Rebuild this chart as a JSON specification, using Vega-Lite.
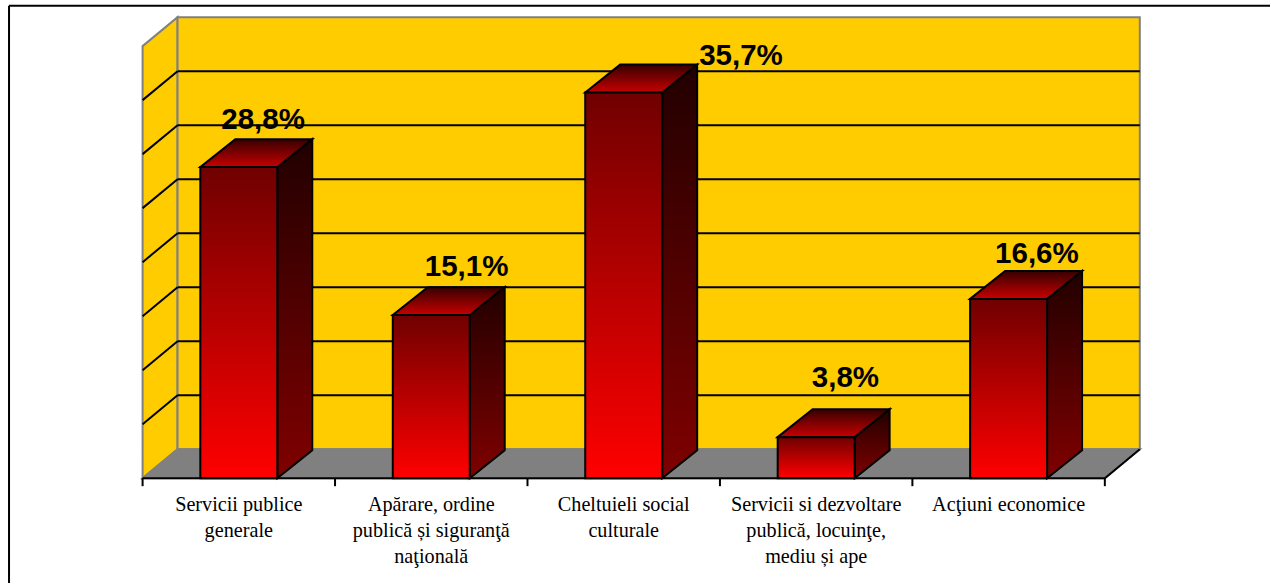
{
"$schema":"https://vega.github.io/schema/vega-lite/v6.json",
"width":1271,"height":584,"padding":0,
"autosize":{"type":"fit","contains":"padding"},
"background":"white",
"config":{"view":{"stroke":null}},
"datasets":{
"bars":[
{"i":0,"category":"Servicii publice\ngenerale","value":28.8,"text":"28,8%"},
{"i":1,"category":"Apărare, ordine\npublică și siguranţă\nnaţională","value":15.1,"text":"15,1%"},
{"i":2,"category":"Cheltuieli social\nculturale","value":35.7,"text":"35,7%"},
{"i":3,"category":"Servicii si dezvoltare\npublică, locuinţe,\nmediu și ape","value":3.8,"text":"3,8%"},
{"i":4,"category":"Acţiuni economice","value":16.6,"text":"16,6%"}
],
"grid":[{"v":5},{"v":10},{"v":15},{"v":20},{"v":25},{"v":30},{"v":35}],
"ticks":[{"k":0},{"k":1},{"k":2},{"k":3},{"k":4},{"k":5}],
"one":[{"o":1}]
},
"data":{"name":"bars"},
"encoding":{
"x":{"field":"x","type":"quantitative","axis":null,"scale":{"domain":[-0.7409,5.8582],"nice":false,"zero":false}},
"y":{"field":"y","type":"quantitative","axis":null,"scale":{"domain":[-9.704,44.27],"nice":false,"zero":false}}
},
"layer":[
{"data":{"name":"one"},
"transform":[{"calculate":"[0,1]","as":"t"},{"flatten":["t"]},{"calculate":"datum.t*0.1817","as":"x"},{"calculate":"40+datum.t*2.68","as":"y"},{"calculate":"datum.t*2.68","as":"y2"}],
"mark":{"type":"area","fill":"#FFCC00","stroke":"#808080","strokeWidth":2},
"encoding":{"y2":{"field":"y2"}}},
{"data":{"name":"one"},
"transform":[{"calculate":"0.1817","as":"x"},{"calculate":"5.1817","as":"x2"},{"calculate":"2.68","as":"y"},{"calculate":"42.68","as":"y2"}],
"mark":{"type":"rect","fill":"#FFCC00","stroke":"#808080","strokeWidth":2},
"encoding":{"x2":{"field":"x2"},"y2":{"field":"y2"}}},
{"data":{"name":"one"},
"transform":[{"calculate":"[0,1,2,3]","as":"t"},{"flatten":["t"]},{"calculate":"[0,0.1817,5,5.1817][datum.t]","as":"x"},{"calculate":"[0,2.68,2.68,2.68][datum.t]","as":"y"},{"calculate":"[0,0,0,2.68][datum.t]","as":"y2"}],
"mark":{"type":"area","fill":"#808080","stroke":"#808080","strokeWidth":2},
"encoding":{"y2":{"field":"y2"}}},
{"data":{"name":"grid"},
"transform":[{"calculate":"0","as":"x"},{"calculate":"0.1817","as":"x2"},{"calculate":"datum.v","as":"y"},{"calculate":"datum.v+2.68","as":"y2"}],
"mark":{"type":"rule","stroke":"black","strokeWidth":2},
"encoding":{"x2":{"field":"x2"},"y2":{"field":"y2"}}},
{"data":{"name":"grid"},
"transform":[{"calculate":"0.1817","as":"x"},{"calculate":"5.1817","as":"x2"},{"calculate":"datum.v+2.68","as":"y"}],
"mark":{"type":"rule","stroke":"black","strokeWidth":2},
"encoding":{"x2":{"field":"x2"}}},
{"data":{"name":"one"},
"transform":[{"calculate":"5","as":"x"},{"calculate":"5.1817","as":"x2"},{"calculate":"0","as":"y"},{"calculate":"2.68","as":"y2"}],
"mark":{"type":"rule","stroke":"black","strokeWidth":2},
"encoding":{"x2":{"field":"x2"},"y2":{"field":"y2"}}},
{"transform":[{"calculate":"[0,1]","as":"t"},{"flatten":["t"]},{"calculate":"datum.i+0.7+datum.t*0.1817","as":"x"},{"calculate":"datum.t*2.588","as":"y"},{"calculate":"datum.value+datum.t*2.588","as":"y2"}],
"mark":{"type":"area","stroke":"black","strokeWidth":2,"strokeJoin":"miter",
"fill":{"gradient":"linear","x1":0,"y1":0,"x2":0,"y2":1,"stops":[{"offset":0,"color":"#220000"},{"offset":1,"color":"#800000"}]}},
"encoding":{"y2":{"field":"y2"},"detail":{"field":"i"}}},
{"transform":[{"calculate":"[0,1,2,3]","as":"t"},{"flatten":["t"]},{"calculate":"datum.i+0.3+[0,0.1817,0.4,0.5817][datum.t]","as":"x"},{"calculate":"datum.value+[0,2.588,2.588,2.588][datum.t]","as":"y"},{"calculate":"datum.value+[0,0,0,2.588][datum.t]","as":"y2"}],
"mark":{"type":"area","stroke":"black","strokeWidth":2,"strokeJoin":"miter",
"fill":{"gradient":"linear","x1":0,"y1":0,"x2":0,"y2":1,"stops":[{"offset":0,"color":"#380000"},{"offset":1,"color":"#c80000"}]}},
"encoding":{"y2":{"field":"y2"},"detail":{"field":"i"}}},
{"transform":[{"calculate":"datum.i+0.3","as":"x"},{"calculate":"datum.i+0.7","as":"x2"},{"calculate":"datum.value","as":"y"},{"calculate":"0","as":"y2"}],
"mark":{"type":"rect","stroke":"black","strokeWidth":2,
"fill":{"gradient":"linear","x1":0,"y1":0,"x2":0,"y2":1,"stops":[{"offset":0,"color":"#700000"},{"offset":1,"color":"#ff0000"}]}},
"encoding":{"x2":{"field":"x2"},"y2":{"field":"y2"}}},
{"data":{"name":"one"},
"transform":[{"calculate":"0","as":"x"},{"calculate":"5","as":"x2"},{"calculate":"0","as":"y"}],
"mark":{"type":"rule","stroke":"black","strokeWidth":2},
"encoding":{"x2":{"field":"x2"}}},
{"data":{"name":"ticks"},
"transform":[{"calculate":"datum.k","as":"x"},{"calculate":"0","as":"y"},{"calculate":"-0.74","as":"y2"}],
"mark":{"type":"rule","stroke":"black","strokeWidth":2},
"encoding":{"y2":{"field":"y2"}}},
{"transform":[{"calculate":"datum.i+0.5","as":"x"},{"calculate":"-3.05","as":"y"}],
"mark":{"type":"text","font":"Liberation Serif","fontSize":20.2,"lineHeight":26,"lineBreak":"\n","align":"center","baseline":"alphabetic","fill":"black"},
"encoding":{"text":{"field":"category"}}},
{"transform":[{"filter":"datum.i==0"},{"calculate":"datum.i+0.5","as":"x"},{"calculate":"datum.value","as":"y"}],
"mark":{"type":"text","font":"Liberation Sans","fontWeight":"bold","fontSize":29.5,"align":"center","baseline":"alphabetic","fill":"black","dx":24.3,"dy":-38.5},
"encoding":{"text":{"field":"text"}}},
{"transform":[{"filter":"datum.i==1"},{"calculate":"datum.i+0.5","as":"x"},{"calculate":"datum.value","as":"y"}],
"mark":{"type":"text","font":"Liberation Sans","fontWeight":"bold","fontSize":29.5,"align":"center","baseline":"alphabetic","fill":"black","dx":35.3,"dy":-39.1},
"encoding":{"text":{"field":"text"}}},
{"transform":[{"filter":"datum.i==2"},{"calculate":"datum.i+0.5","as":"x"},{"calculate":"datum.value","as":"y"}],
"mark":{"type":"text","font":"Liberation Sans","fontWeight":"bold","fontSize":29.5,"align":"center","baseline":"alphabetic","fill":"black","dx":117.3,"dy":-27.5},
"encoding":{"text":{"field":"text"}}},
{"transform":[{"filter":"datum.i==3"},{"calculate":"datum.i+0.5","as":"x"},{"calculate":"datum.value","as":"y"}],
"mark":{"type":"text","font":"Liberation Sans","fontWeight":"bold","fontSize":29.5,"align":"center","baseline":"alphabetic","fill":"black","dx":29.3,"dy":-50.5},
"encoding":{"text":{"field":"text"}}},
{"transform":[{"filter":"datum.i==4"},{"calculate":"datum.i+0.5","as":"x"},{"calculate":"datum.value","as":"y"}],
"mark":{"type":"text","font":"Liberation Sans","fontWeight":"bold","fontSize":29.5,"align":"center","baseline":"alphabetic","fill":"black","dx":28.3,"dy":-35.5},
"encoding":{"text":{"field":"text"}}},
{"data":{"name":"one"},
"transform":[{"calculate":"-0.694","as":"x"},{"calculate":"5.8582","as":"x2"},{"calculate":"43.74","as":"y"}],
"mark":{"type":"rule","stroke":"black","strokeWidth":2},
"encoding":{"x2":{"field":"x2"}}},
{"data":{"name":"one"},
"transform":[{"calculate":"-0.694","as":"x"},{"calculate":"43.74","as":"y"},{"calculate":"-9.704","as":"y2"}],
"mark":{"type":"rule","stroke":"black","strokeWidth":2},
"encoding":{"y2":{"field":"y2"}}}
]
}
